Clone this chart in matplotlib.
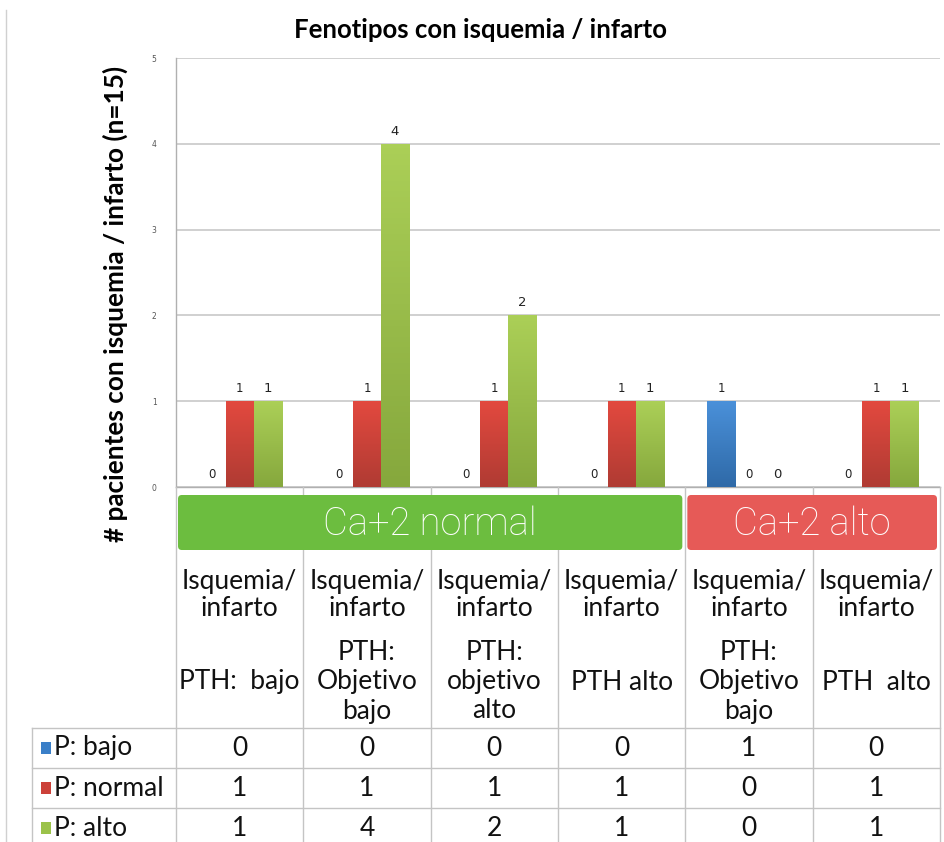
import numpy as np
import matplotlib.pyplot as plt
from matplotlib.patches import Rectangle, FancyBboxPatch
from matplotlib.lines import Line2D
from matplotlib.colors import LinearSegmentedColormap

# data
groups = ["Isquemia/\ninfarto"] * 6
pth_labels = ["PTH:  bajo", "PTH:\nObjetivo\nbajo", "PTH:\nobjetivo\nalto",
              "PTH alto", "PTH:\nObjetivo\nbajo", "PTH  alto"]
series = ["P: bajo", "P: normal", "P: alto"]
p_bajo = [0, 0, 0, 0, 1, 0]
p_normal = [1, 1, 1, 1, 0, 1]
p_alto = [1, 4, 2, 1, 0, 1]
values = [p_bajo, p_normal, p_alto]
ca_groups = ["Ca+2 normal", "Ca+2 alto"]
ca_span = [(0, 3), (4, 5)]

# colours: (top, bottom) of the bar gradient
bar_cols = [("#4a90d9", "#2f6aa8"), ("#e2493f", "#b03b33"), ("#abcf57", "#86a83d")]
legend_cols = ["#3a7fc8", "#cc4139", "#9bc24a"]
banner_cols = ["#6cbd3f", "#e65a57"]

FONT = "Lato"
FS = 19
W, H = 944, 842
fig = plt.figure(figsize=(W / 100, H / 100), dpi=100)

L, R, T, B = 176, 940, 58, 487
ax = fig.add_axes([L / W, 1 - B / H, (R - L) / W, (B - T) / H])
x = np.arange(len(p_bajo))
bw = 0.22
grad = np.linspace(0, 1, 64).reshape(-1, 1)
for i, vals in enumerate(values):
    bars = ax.bar(x + (i - 1) * bw, vals, bw, color=legend_cols[i], zorder=3)
    top, bot = bar_cols[i]
    cmap = LinearSegmentedColormap.from_list("g%d" % i, [bot, top])
    for b, v in zip(bars, vals):
        if v > 0:
            im = ax.imshow(grad, cmap=cmap, origin="lower", aspect="auto",
                           extent=[b.get_x(), b.get_x() + b.get_width(), 0, v],
                           zorder=4)
            im.set_clip_path(b)
        fs = 8.5 if i < 2 else 9.5
        ax.text(b.get_x() + b.get_width() / 2, v + 0.07, str(v), ha="center",
                va="bottom", fontsize=fs, fontfamily="DejaVu Sans", color="#222222", zorder=5)

ax.set_xlim(-0.5, 5.5)
ax.set_ylim(0, 5)
ax.set_yticks(range(6))
ax.tick_params(axis="y", labelsize=5.5, labelcolor="#555555", length=0, pad=14)
ax.set_xticks([])
ax.yaxis.grid(True, color="#c8c8c8", lw=1.2, zorder=0)
for s in ["right", "top"]:
    ax.spines[s].set_visible(False)
for s in ["left", "bottom"]:
    ax.spines[s].set_color("#b0b0b0")
    ax.spines[s].set_linewidth(1.0)

fig.text(481 / W, 1 - 30 / H, "Fenotipos con isquemia / infarto", ha="center",
         va="center", fontsize=18.5, fontweight="bold", fontfamily=FONT)
fig.text(115 / W, 1 - 304 / H, "# pacientes con isquemia / infarto (n=15)",
         rotation=90, ha="center", va="center", fontsize=18.8,
         fontweight="bold", fontfamily=FONT)

# lower panel: pixel y, same x scale as the bars
tax = fig.add_axes([L / W, 0, (R - L) / W, (H - B) / H])
tax.set_xlim(-0.5, 5.5)
tax.set_ylim(H, B)
tax.axis("off")
ppx = (R - L) / 6.0


def px2x(px):
    return -0.5 + (px - L) / ppx


gc = "#c4c4c4"
for k in range(7):
    tax.add_line(Line2D([k - 0.5, k - 0.5], [B, H], color=gc, lw=1.0, clip_on=False))
for yy in [728, 768, 808]:
    tax.add_line(Line2D([px2x(32), 5.5], [yy, yy], color=gc, lw=1.0, clip_on=False))
tax.add_line(Line2D([px2x(32), px2x(32)], [728, H], color=gc, lw=1.0, clip_on=False))
tax.add_line(Line2D([px2x(6), px2x(6)], [10, H], color="#d0d0d0", lw=1.0, clip_on=False))

# Ca+2 banners
for (a, b), name, col in zip(ca_span, ca_groups, banner_cols):
    x0 = a - 0.5 + 2 / ppx
    x1 = b + 0.5 - 3 / ppx
    box = FancyBboxPatch((x0, 495), x1 - x0, 55,
                         boxstyle="round,pad=0,rounding_size=0.03",
                         mutation_aspect=ppx, fc=col, ec="none", zorder=3,
                         clip_on=False)
    tax.add_patch(box)
    tax.text((x0 + x1) / 2, 524, name, ha="center", va="center", color="white",
             fontsize=27.5, fontfamily="Roboto", fontweight="light", zorder=4)

# category labels
for k in range(6):
    tax.text(k, 595, groups[k], ha="center", va="center", fontsize=FS,
             fontfamily=FONT, linespacing=1.1, color="#111111")
    tax.text(k, 682, pth_labels[k], ha="center", va="center", fontsize=FS,
             fontfamily=FONT, linespacing=1.2, color="#111111")

# data table with legend keys
row_y = [748, 788, 828]
for r, (name, vals) in enumerate(zip(series, values)):
    tax.add_patch(Rectangle((px2x(41), row_y[r] - 6), 10 / ppx, 12,
                            fc=legend_cols[r], ec="none", clip_on=False))
    tax.text(px2x(54), row_y[r], name, ha="left", va="center", fontsize=FS,
             fontfamily=FONT, color="#111111")
    for k, v in enumerate(vals):
        tax.text(k, row_y[r], str(v), ha="center", va="center", fontsize=FS,
                 fontfamily=FONT, color="#111111")

fig.savefig("out.png", dpi=100, facecolor="white")
